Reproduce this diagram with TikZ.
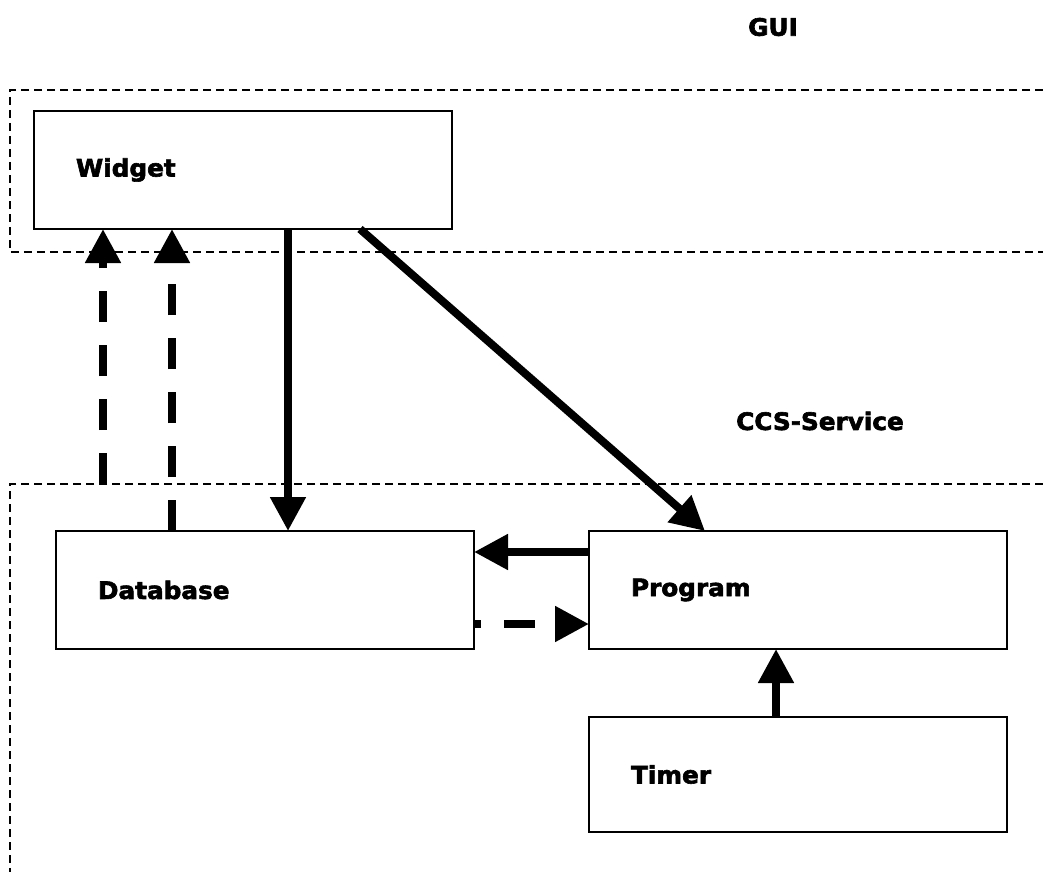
\documentclass[tikz,border=0pt]{standalone}
\usepackage{fontspec}
\newfontfamily\diagfont{DejaVu Sans Bold}[FakeStretch=1.03,FakeBold=2.5]
\usepackage{tikz}
\usetikzlibrary{arrows.meta,positioning}

\begin{document}
\begin{tikzpicture}[x=1pt,y=-1pt,
    every node/.style={font=\diagfont\fontsize{24}{28}\selectfont},
    block/.style={draw,line width=1.5pt,anchor=north west,outer sep=0pt,
      text width=334pt,inner xsep=42pt,minimum height=118pt,align=left},
    region/.style={line width=1.3pt,dash pattern=on 8pt off 5pt},
    flow/.style={line width=8pt,-{Triangle[length=34pt,width=34pt]}},
    weakflow/.style={flow,dash pattern=on 31pt off 23pt}]
    \useasboundingbox (0,0) rectangle (1043,872);
    \draw[region] (1043,90) -- (10,90) -- (10,252) -- (1043,252);
    \draw[region] (1043,484) -- (10,484) -- (10,872);
    \node (gui) at (773,27) {GUI};
    \node (ccs) at (820,421) {CCS-Service};
    \node[block] (widget) at (34,111) {Widget};
    \node[block] (database) at (56,531) {Database};
    \node[block] (program) at (589,531) {Program};
    \node[block,minimum height=115pt] (timer) at (589,717) {Timer};
    \coordinate (tail) at (103,484);
    \draw[weakflow] (tail) -- (tail |- widget.south);
    \draw[weakflow] ([xshift=116pt]database.north west) -- ([xshift=116pt]database.north west |- widget.south);
    \draw[flow] ([xshift=254pt]widget.south west) -- ([xshift=254pt]widget.south west |- database.north);
    \draw[flow] ([xshift=326pt]widget.south west) -- ([xshift=116pt]program.north west);
    \draw[flow] ([yshift=-21pt]program.north west) -- ([yshift=-21pt]program.north west -| database.east);
    \draw[weakflow,dash phase=24pt] ([yshift=-93pt]database.north east) -- ([yshift=-93pt]database.north east -| program.west);
    \draw[flow] ([xshift=187pt]timer.north west) -- ([xshift=187pt]timer.north west |- program.south);
  \end{tikzpicture}
\end{document}
